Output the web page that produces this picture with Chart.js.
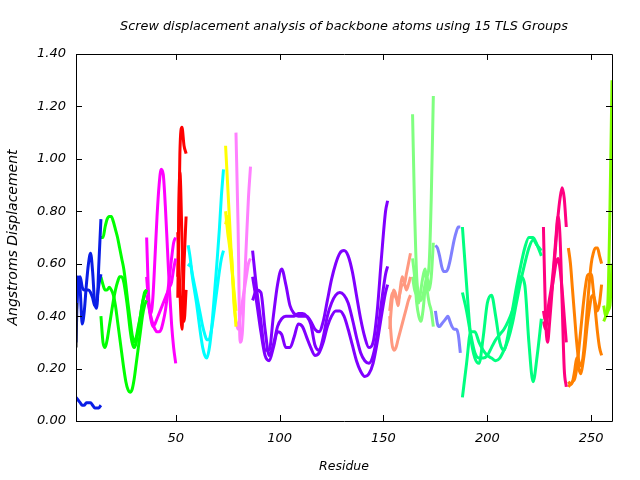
<!DOCTYPE html>
<html>
<head>
<meta charset="utf-8">
<script src="https://cdn.jsdelivr.net/npm/chart.js@4.4.0/dist/chart.umd.min.js"></script>
<style>
  html, body { margin: 0; padding: 0; background: #ffffff; }
  #wrap { width: 640px; height: 480px; }
</style>
</head>
<body>
<div id="wrap"><canvas id="c" width="640" height="480"></canvas></div>
<script>
// ---- Data ----
const xTicks = [50, 100, 150, 200, 250];
const yTicks = [0.0, 0.2, 0.4, 0.6, 0.8, 1.0, 1.2, 1.4];

const g0Res = [2, 2.2];
const g0A = [0.28, 0.45];

const g1Res = [2, 3, 4, 5, 6, 7, 8, 9, 10, 11, 12, 13, 14];
const g1A = [0.30, 0.55, 0.50, 0.37, 0.42, 0.52, 0.60, 0.64, 0.57, 0.45, 0.43, 0.60, 0.77];
const g1B = [0.39, 0.52, 0.55, 0.51, 0.50, 0.50, 0.50, 0.49, 0.47, 0.44, 0.46, 0.52, 0.56];
const g1C = [0.09, 0.08, 0.07, 0.06, 0.06, 0.07, 0.07, 0.07, 0.06, 0.05, 0.05, 0.05, 0.06];

const g2Res = [14, 15, 16, 17, 18, 19, 20, 21, 22, 23, 24, 25, 26, 27, 28, 29, 30, 31, 32, 33, 34, 35, 36];
const g2A = [0.70, 0.70, 0.74, 0.77, 0.78, 0.78, 0.76, 0.73, 0.70, 0.66, 0.62, 0.58, 0.52, 0.45, 0.39, 0.33, 0.30, 0.32, 0.36, 0.40, 0.45, 0.49, 0.50];
const g2B = [0.55, 0.52, 0.50, 0.50, 0.51, 0.50, 0.48, 0.44, 0.38, 0.32, 0.26, 0.20, 0.15, 0.12, 0.11, 0.12, 0.16, 0.22, 0.28, 0.34, 0.40, 0.44, 0.46];
const g2C = [0.40, 0.30, 0.28, 0.31, 0.36, 0.41, 0.46, 0.50, 0.53, 0.55, 0.55, 0.53, 0.48, 0.42, 0.35, 0.30, 0.28, 0.30, 0.35, 0.40, 0.45, 0.48, 0.50];

const g3Res = [36, 37, 38, 39, 40, 41, 42, 43, 44, 45, 46, 47, 48, 49, 50];
const g3A = [0.70, 0.47, 0.41, 0.47, 0.62, 0.78, 0.90, 0.96, 0.94, 0.82, 0.66, 0.50, 0.37, 0.28, 0.22];
const g3B = [0.55, 0.45, 0.40, 0.37, 0.35, 0.34, 0.34, 0.35, 0.38, 0.42, 0.48, 0.55, 0.62, 0.68, 0.70];
const g3C = [0.48, 0.44, 0.39, 0.36, 0.37, 0.39, 0.41, 0.43, 0.45, 0.47, 0.49, 0.51, 0.53, 0.58, 0.62];

const g4Res = [51, 52, 53, 54, 55];
const g4A = [0.47, 1.02, 1.12, 1.05, 1.02];
const g4B = [0.55, 0.95, 0.70, 0.38, 0.50];
const g4C = [0.72, 0.50, 0.35, 0.60, 0.78];

const g5Res = [56, 57, 58, 59, 60, 61, 62, 63, 64, 65, 66, 67, 68, 69, 70, 71, 72, 73];
const g5A = [0.67, 0.62, 0.55, 0.50, 0.45, 0.39, 0.33, 0.28, 0.25, 0.24, 0.27, 0.33, 0.42, 0.52, 0.62, 0.73, 0.86, 0.96];
const g5B = [0.59, 0.60, 0.56, 0.52, 0.48, 0.44, 0.40, 0.36, 0.33, 0.31, 0.31, 0.34, 0.39, 0.45, 0.51, 0.57, 0.62, 0.65];

const g6Res = [74, 75, 76, 77, 78, 79];
const g6A = [1.05, 0.90, 0.75, 0.60, 0.48, 0.36];
const g6B = [0.80, 0.72, 0.66, 0.58, 0.50, 0.42];
const g6C = [0.75, 0.78, 0.68, 0.62, 0.45, 0.38];

const g7Res = [79, 80, 81, 82, 83, 84, 85, 86];
const g7A = [1.10, 0.75, 0.30, 0.33, 0.50, 0.68, 0.85, 0.97];
const g7B = [0.38, 0.35, 0.40, 0.45, 0.50, 0.55, 0.60, 0.62];

const g8Res = [87, 89, 91, 93, 95, 97, 99, 101, 103, 105, 107, 109, 111, 113, 115, 117, 119, 121, 123, 125, 127, 129, 131, 133, 135, 137, 139, 141, 143, 145, 147, 149, 151, 152];
const g8A = [0.65, 0.50, 0.38, 0.27, 0.27, 0.40, 0.52, 0.58, 0.52, 0.44, 0.41, 0.40, 0.40, 0.40, 0.38, 0.35, 0.34, 0.38, 0.46, 0.54, 0.60, 0.64, 0.65, 0.63, 0.57, 0.48, 0.39, 0.32, 0.28, 0.30, 0.42, 0.62, 0.80, 0.84];
const g8B = [0.46, 0.50, 0.49, 0.35, 0.25, 0.29, 0.36, 0.39, 0.40, 0.40, 0.40, 0.41, 0.41, 0.40, 0.37, 0.29, 0.27, 0.32, 0.40, 0.45, 0.48, 0.49, 0.48, 0.45, 0.39, 0.32, 0.26, 0.23, 0.22, 0.25, 0.33, 0.45, 0.56, 0.59];
const g8C = [0.55, 0.45, 0.34, 0.25, 0.23, 0.28, 0.34, 0.33, 0.28, 0.28, 0.32, 0.37, 0.36, 0.32, 0.28, 0.25, 0.26, 0.30, 0.36, 0.40, 0.42, 0.42, 0.40, 0.35, 0.29, 0.23, 0.19, 0.17, 0.18, 0.22, 0.30, 0.40, 0.49, 0.52];

const g9Res = [153, 154, 155, 156, 157, 158, 159, 160, 161, 162, 163];
const g9A = [0.40, 0.30, 0.27, 0.28, 0.31, 0.34, 0.37, 0.40, 0.43, 0.46, 0.48];
const g9B = [0.42, 0.48, 0.49, 0.47, 0.46, 0.49, 0.52, 0.52, 0.56, 0.60, 0.64];
const g9C = [0.35, 0.45, 0.50, 0.48, 0.44, 0.50, 0.55, 0.53, 0.50, 0.52, 0.55];

const g10Res = [164, 165, 166, 167, 168, 169, 170, 171, 172, 173, 174];
const g10A = [1.17, 0.80, 0.55, 0.48, 0.46, 0.48, 0.52, 0.55, 0.60, 0.85, 1.24];
const g10B = [0.62, 0.55, 0.45, 0.40, 0.38, 0.42, 0.50, 0.55, 0.50, 0.55, 0.68];
const g10C = [0.55, 0.50, 0.48, 0.45, 0.50, 0.55, 0.58, 0.50, 0.45, 0.42, 0.36];

const g11Res = [175, 176, 177, 178, 179, 180, 181, 182, 183, 184, 185, 186, 187];
const g11A = [0.67, 0.66, 0.63, 0.59, 0.57, 0.57, 0.58, 0.61, 0.65, 0.69, 0.72, 0.74, 0.74];
const g11B = [0.42, 0.37, 0.36, 0.37, 0.38, 0.39, 0.40, 0.38, 0.36, 0.35, 0.35, 0.33, 0.26];

const g12Res = [188, 190, 192, 194, 196, 198, 200, 202, 204, 206, 208, 210, 212, 214, 216, 218, 220, 222, 224, 226];
const g12A = [0.74, 0.52, 0.32, 0.24, 0.22, 0.32, 0.45, 0.48, 0.40, 0.30, 0.27, 0.33, 0.42, 0.51, 0.59, 0.66, 0.70, 0.70, 0.67, 0.63];
const g12B = [0.09, 0.22, 0.34, 0.34, 0.30, 0.27, 0.25, 0.24, 0.23, 0.24, 0.27, 0.31, 0.37, 0.45, 0.53, 0.60, 0.66, 0.69, 0.67, 0.65];
const g12C = [0.49, 0.42, 0.33, 0.26, 0.24, 0.24, 0.25, 0.28, 0.31, 0.33, 0.35, 0.38, 0.42, 0.47, 0.55, 0.52, 0.30, 0.15, 0.25, 0.39];

const g13Res = [227, 228, 229, 230, 231, 232, 233, 234, 235, 236, 237, 238];
const g13A = [0.74, 0.40, 0.30, 0.38, 0.48, 0.58, 0.68, 0.78, 0.85, 0.89, 0.85, 0.74];
const g13B = [0.42, 0.38, 0.42, 0.47, 0.52, 0.60, 0.70, 0.78, 0.70, 0.45, 0.20, 0.13];
const g13C = [0.38, 0.35, 0.40, 0.44, 0.50, 0.55, 0.60, 0.62, 0.58, 0.50, 0.40, 0.30];

const g14Res = [239, 240, 241, 242, 243, 244, 245, 246, 247, 248, 249, 250, 251, 252, 253, 254, 255];
const g14A = [0.66, 0.60, 0.50, 0.40, 0.30, 0.23, 0.21, 0.24, 0.32, 0.42, 0.52, 0.60, 0.64, 0.66, 0.66, 0.63, 0.60];
const g14B = [0.13, 0.14, 0.15, 0.16, 0.20, 0.27, 0.35, 0.43, 0.50, 0.55, 0.56, 0.56, 0.50, 0.42, 0.34, 0.28, 0.25];
const g14C = [0.15, 0.14, 0.15, 0.19, 0.24, 0.20, 0.18, 0.22, 0.28, 0.36, 0.42, 0.47, 0.48, 0.45, 0.42, 0.45, 0.52];

const g15Res = [256, 257, 258, 259, 260];
const g15A = [0.38, 0.40, 0.45, 0.80, 1.30];
const g15B = [0.44, 0.40, 0.42, 0.44, 0.60];

// ---- Build datasets ----
const groups = [
  { res: g0Res, lines: [g0A] },
  { res: g1Res, lines: [g1A, g1B, g1C] },
  { res: g2Res, lines: [g2A, g2B, g2C] },
  { res: g3Res, lines: [g3A, g3B, g3C] },
  { res: g4Res, lines: [g4A, g4B, g4C] },
  { res: g5Res, lines: [g5A, g5B] },
  { res: g6Res, lines: [g6A, g6B, g6C] },
  { res: g7Res, lines: [g7A, g7B] },
  { res: g8Res, lines: [g8A, g8B, g8C] },
  { res: g9Res, lines: [g9A, g9B, g9C] },
  { res: g10Res, lines: [g10A, g10B, g10C] },
  { res: g11Res, lines: [g11A, g11B] },
  { res: g12Res, lines: [g12A, g12B, g12C] },
  { res: g13Res, lines: [g13A, g13B, g13C] },
  { res: g14Res, lines: [g14A, g14B, g14C] },
  { res: g15Res, lines: [g15A, g15B] }
];
const colors = ['#202020', '#0a1ee6', '#00ff00', '#ff00ff', '#ff0000', '#00ffff', '#ffff00',
  '#ff80ff', '#8000ff', '#ff9980', '#80ff80', '#8080ff', '#00ff80', '#ff0080', '#ff8000', '#80ff00'];

const datasets = [];
groups.forEach((g, gi) => {
  g.lines.forEach((vals, li) => {
    datasets.push({
      label: 'Group ' + gi + ' line ' + (li + 1),
      data: g.res.map((r, i) => ({ x: r, y: vals[i] })),
      borderColor: colors[gi],
      borderWidth: 3,
      pointRadius: 0,
      cubicInterpolationMode: 'monotone',
      fill: false
    });
  });
});

const FONT = '"DejaVu Sans", sans-serif';

const framePlugin = {
  id: 'frame',
  afterDatasetsDraw(chart) {
    const { ctx, chartArea: a, scales } = chart;
    ctx.save();
    ctx.strokeStyle = '#000000';
    ctx.lineWidth = 1;
    ctx.beginPath();
    ctx.rect(Math.round(a.left) + 0.5, Math.round(a.top) + 0.5, Math.round(a.right - a.left), Math.round(a.bottom - a.top));
    ctx.stroke();
    const tl = 6;
    ctx.beginPath();
    xTicks.forEach(v => {
      const px = Math.round(scales.x.getPixelForValue(v)) + 0.5;
      ctx.moveTo(px, a.bottom); ctx.lineTo(px, a.bottom - tl);
      ctx.moveTo(px, a.top); ctx.lineTo(px, a.top + tl);
    });
    yTicks.forEach(v => {
      const py = Math.round(scales.y.getPixelForValue(v)) + 0.5;
      ctx.moveTo(a.left, py); ctx.lineTo(a.left + tl, py);
      ctx.moveTo(a.right, py); ctx.lineTo(a.right - tl, py);
    });
    ctx.stroke();
    ctx.restore();
  }
};

new Chart(document.getElementById('c'), {
  type: 'line',
  data: { datasets },
  options: {
    responsive: false,
    animation: false,
    layout: { padding: { left: 0, right: 28, top: 0, bottom: 0 } },
    plugins: {
      legend: { display: false },
      tooltip: { enabled: false },
      title: {
        display: true,
        text: 'Screw displacement analysis of backbone atoms using 15 TLS Groups',
        color: '#000000',
        font: { family: FONT, size: 12.8, style: 'italic', weight: 'normal', lineHeight: 1.2 },
        padding: { top: 19, bottom: 19.6 },
        fullSize: false
      }
    },
    scales: {
      x: {
        type: 'linear',
        min: 2,
        max: 260,
        afterBuildTicks(scale) { scale.ticks = xTicks.map(v => ({ value: v })); },
        afterFit(scale) { scale.height = 59; },
        grid: { display: false, drawTicks: false },
        border: { display: false },
        ticks: {
          padding: 10,
          color: '#000000',
          font: { family: FONT, size: 13, style: 'italic' },
          maxRotation: 0,
          autoSkip: false
        },
        title: {
          display: true,
          text: 'Residue',
          color: '#000000',
          font: { family: FONT, size: 12.5, style: 'italic' },
          padding: { top: 4, bottom: 6 }
        }
      },
      y: {
        type: 'linear',
        min: 0,
        max: 1.4,
        afterBuildTicks(scale) { scale.ticks = yTicks.map(v => ({ value: v })); },
        afterFit(scale) { scale.width = 76; },
        grid: { display: false, drawTicks: false },
        border: { display: false },
        ticks: {
          padding: 10,
          color: '#000000',
          font: { family: FONT, size: 13, style: 'italic' },
          callback: v => Number(v).toFixed(2)
        },
        title: {
          display: true,
          text: 'Angstroms Displacement',
          color: '#000000',
          font: { family: FONT, size: 14, style: 'italic' },
          padding: { top: 5, bottom: 0 }
        }
      }
    }
  },
  plugins: [framePlugin]
});
</script>
</body>
</html>
